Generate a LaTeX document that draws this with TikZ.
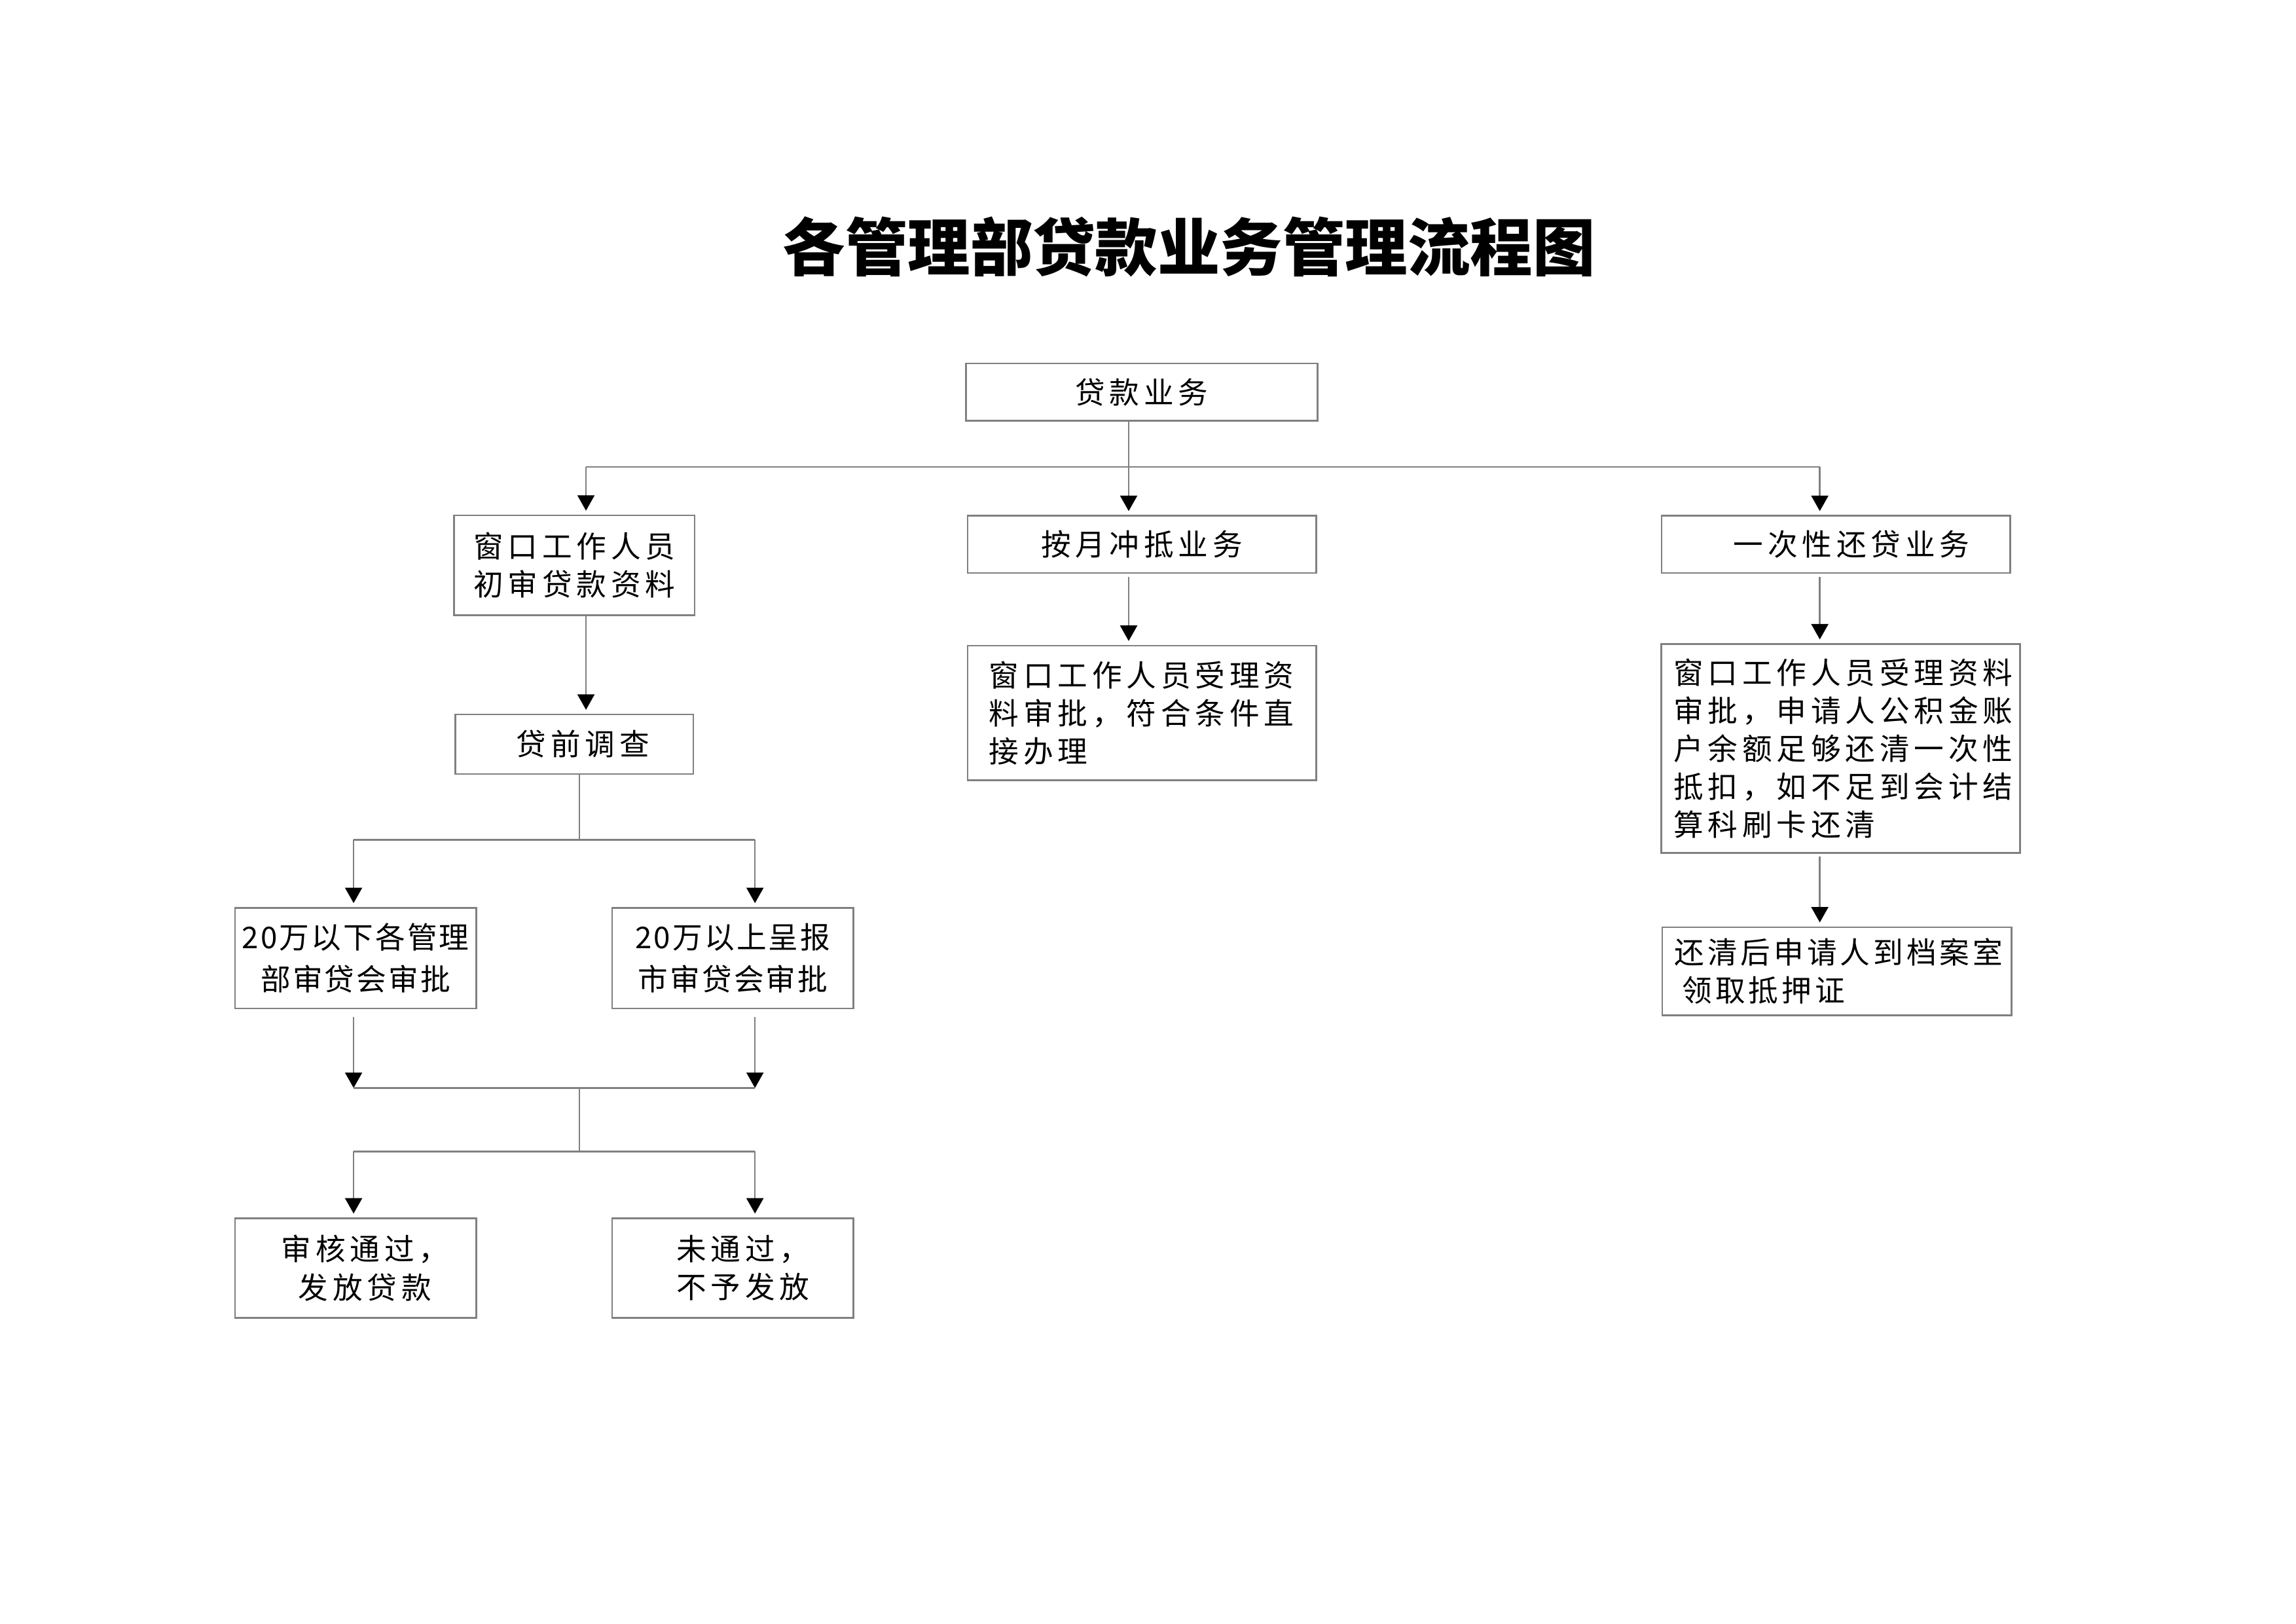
\documentclass[tikz,border=0pt]{standalone}
\usepackage{fontspec}
\usepackage{tikz}
\usetikzlibrary{positioning,arrows.meta,calc}
\setmainfont{Noto Sans CJK SC}
\newfontfamily\titlefont{Noto Sans CJK SC}
\newfontfamily\bodyfont{Noto Sans CJK SC}[LetterSpace=15]
\newfontfamily\tightfont{Noto Sans CJK SC}[LetterSpace=11]
\newfontfamily\numfont{Noto Sans CJK SC}[LetterSpace=7]
\definecolor{edge}{HTML}{808080}
\tikzset{
  box/.style={draw=edge,line width=0.6pt,align=center,inner sep=0pt,
              font=\bodyfont\fontsize{11pt}{14pt}\selectfont},
  ln/.style={draw=edge,line width=0.6pt},
  arr/.style={ln,-{Triangle[length=2mm,width=2.2mm,color=black]},shorten >=0.5mm}
}
\begin{document}
\begin{tikzpicture}
  \useasboundingbox (0,0) rectangle (29.7,-21);
  \node[font=\titlefont\bfseries\fontsize{23pt}{26pt}\selectfont] (title) at (15.38,-3.19) {各管理部贷款业务管理流程图};

  % top level
  \node[box,minimum width=4.55cm,minimum height=0.74cm] (loan) at (14.77,-5.07) {贷款业务};
  \node[box,minimum width=3.11cm,minimum height=1.29cm] (check) at (7.43,-7.31) {窗口工作人员\\初审贷款资料};
  \node[box,minimum width=4.51cm,minimum height=0.74cm] (monthly) at (14.77,-7.04) {按月冲抵业务};
  \node[box,minimum width=4.51cm,minimum height=0.74cm] (once) at (23.75,-7.04) {\hspace*{0.4cm}一次性还贷业务};

  % middle and right columns
  \node[box,align=left,text width=3.95cm,inner xsep=0.28cm,minimum height=1.74cm] (direct) at (14.77,-9.22)
    {窗口工作人员受理资\\料审批，符合条件直\\接办理};
  \node[box,align=left,text width=4.32cm,inner xsep=0.16cm,minimum height=2.70cm] (oncedetail) at (23.81,-9.68)
    {窗口工作人员受理资料\\审批，申请人公积金账\\户余额足够还清一次性\\抵扣，如不足到会计结\\算科刷卡还清};
  \node[box,align=left,text width=4.20cm,inner xsep=0.16cm,minimum height=1.14cm,
        font=\tightfont\fontsize{11pt}{14pt}\selectfont] (cleared) at (23.76,-12.56)
    {还清后申请人到档案室\\\hspace*{0.1cm}领取抵押证};

  % left column
  \node[box,minimum width=3.08cm,minimum height=0.77cm] (survey) at (7.43,-9.625) {\hspace*{0.22cm}贷前调查};
  \node[box,minimum width=3.12cm,minimum height=1.30cm,
        font=\numfont\fontsize{11pt}{15.4pt}\selectfont] (below20) at (4.60,-12.39) {20万以下各管理\\部审贷会审批};
  \node[box,minimum width=3.12cm,minimum height=1.30cm,
        font=\numfont\fontsize{11pt}{15.4pt}\selectfont] (above20) at (9.48,-12.39) {20万以上呈报\\市审贷会审批};
  \node[box,minimum width=3.12cm,minimum height=1.29cm] (pass) at (4.60,-16.40)
    {\hspace*{0.24cm}审核通过，\\\hspace*{0.24cm}发放贷款};
  \node[box,align=right,text width=1.98cm,inner xsep=0.57cm,minimum height=1.29cm] (fail) at (9.48,-16.40)
    {未通过，\\不予发放};

  % junction points
  \coordinate (busT) at (14.60,-6.04);
  \coordinate (busL) at (7.58,-6.04);
  \coordinate (busR) at (23.54,-6.04);
  \coordinate (splitA) at (7.495,-10.86);
  \coordinate (splitAL) at (4.574,-10.86);
  \coordinate (splitAR) at (9.766,-10.86);
  \coordinate (joinM) at (7.495,-14.07);
  \coordinate (joinL) at (4.574,-14.07);
  \coordinate (joinR) at (9.766,-14.07);
  \coordinate (splitB) at (7.495,-14.89);
  \coordinate (splitBL) at (4.574,-14.89);
  \coordinate (splitBR) at (9.766,-14.89);

  \draw[ln] (busT |- loan.south) -- (busT);
  \draw[ln] (busL) -- (busR);
  \draw[arr] (busL) -- (busL |- check.north);
  \draw[arr] (busT) -- (busT |- monthly.north);
  \draw[arr] (busR) -- (busR |- once.north);
  \draw[arr,shorten <=0.4mm] (busT |- monthly.south) -- (busT |- direct.north);
  \draw[arr,shorten <=0.4mm] (busR |- once.south) -- (busR |- oncedetail.north);
  \draw[arr,shorten <=0.4mm] (busR |- oncedetail.south) -- (busR |- cleared.north);
  \draw[arr] (busL |- check.south) -- (busL |- survey.north);

  \draw[ln] (splitA |- survey.south) -- (splitA);
  \draw[ln] (splitAL) -- (splitAR);
  \draw[arr] (splitAL) -- (splitAL |- below20.north);
  \draw[arr] (splitAR) -- (splitAR |- above20.north);
  \draw[arr,shorten <=1mm,shorten >=0mm] (splitAL |- below20.south) -- (joinL);
  \draw[arr,shorten <=1mm,shorten >=0mm] (splitAR |- above20.south) -- (joinR);
  \draw[ln] (joinL) -- (joinR);
  \draw[ln] (joinM) -- (splitB);
  \draw[ln] (splitBL) -- (splitBR);
  \draw[arr] (splitBL) -- (splitBL |- pass.north);
  \draw[arr] (splitBR) -- (splitBR |- fail.north);
\end{tikzpicture}
\end{document}
